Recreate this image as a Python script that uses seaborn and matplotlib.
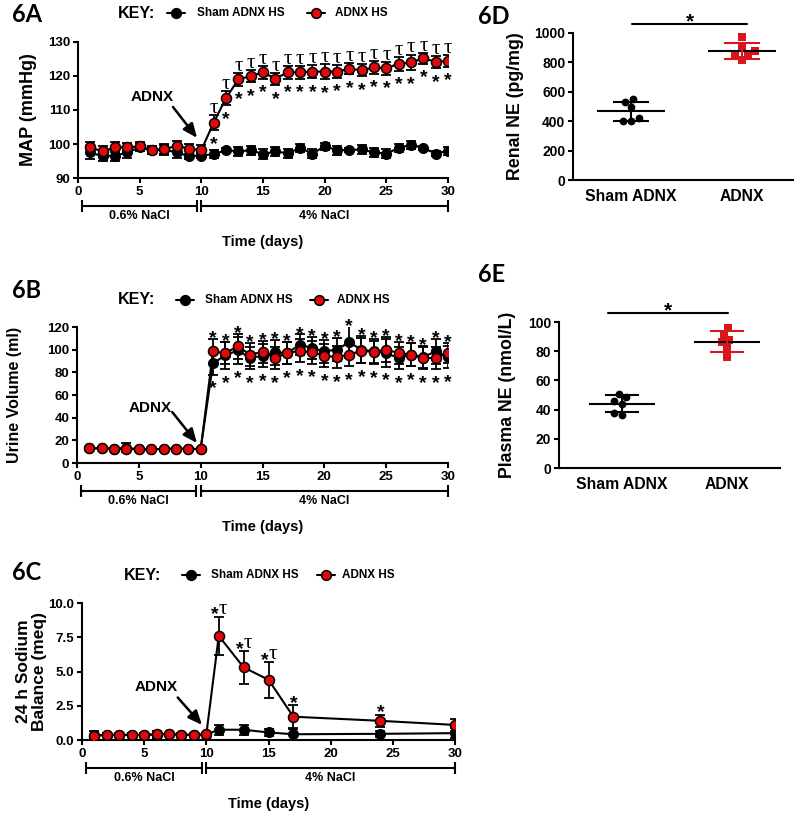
import numpy as np
import matplotlib.pyplot as plt
import matplotlib.transforms as mtransforms
from matplotlib.lines import Line2D
import seaborn as sns

sns.set_theme(style="ticks")
plt.rcParams['font.family'] = ['Liberation Sans', 'DejaVu Sans']
plt.rcParams['font.weight'] = 'bold'
plt.rcParams['axes.labelweight'] = 'bold'
plt.rcParams.update({'text.color': 'black', 'axes.labelcolor': 'black',
                     'xtick.color': 'black', 'ytick.color': 'black',
                     'axes.edgecolor': 'black'})

RED = '#e00808'
RED_SQ = '#d9161c'

# ---- data ----
days = list(range(1, 31))

map_sham = [97.5, 96.4, 96.6, 97.5, 99.0, 98.2, 98.4, 97.5, 96.4, 96.6,
            97.0, 98.2, 97.8, 98.2, 97.0, 97.8, 97.3, 98.8, 97.2, 99.3,
            98.2, 98.2, 98.4, 97.5, 97.2, 98.8, 99.8, 98.8, 97.2, 98.0]
map_sham_sem = [1.8, 1.5, 1.5, 1.5, 1.2, 1.0, 1.2, 1.5, 0.8, 0.8,
                1.2, 0.6, 1.3, 1.3, 1.5, 1.3, 1.3, 1.3, 1.3, 1.0,
                1.3, 0.6, 1.2, 1.2, 1.2, 1.3, 1.2, 0.6, 0.6, 1.2]
map_adnx = [99.0, 97.8, 99.0, 99.0, 99.3, 98.2, 98.4, 99.5, 98.6, 98.2,
            106.3, 113.5, 119.0, 120.0, 121.1, 119.2, 121.1, 121.1, 121.3, 121.3,
            121.3, 122.1, 121.7, 122.5, 122.3, 123.6, 124.0, 125.2, 124.2, 124.4]
map_adnx_sem = [1.5, 1.5, 1.5, 1.2, 1.2, 1.2, 1.5, 1.5, 1.5, 1.5,
                2.2, 2.0, 1.8, 1.8, 1.9, 1.8, 1.9, 1.9, 2.0, 2.2,
                1.8, 1.6, 1.7, 1.8, 1.9, 2.0, 2.3, 1.6, 1.8, 1.7]
map_sig_days = days[10:]

uv_sham = [13.0, 13.0, 12.5, 13.5, 12.0, 12.0, 12.5, 12.5, 12.5, 12.5,
           88.0, 95.0, 99.4, 92.6, 94.7, 97.6, 97.0, 104.4, 101.5, 98.5,
           100.0, 106.5, 100.0, 98.5, 97.0, 92.6, 95.6, 93.5, 98.5, 93.5]
uv_sham_sem = [1.0, 1.0, 1.0, 4.0, 1.0, 1.0, 1.0, 1.0, 1.0, 1.0,
               10, 12, 12, 10, 10, 11, 10, 9, 10, 10,
               10, 14, 12, 11, 12, 10, 10, 10, 11, 10]
uv_adnx = [13.0, 13.0, 12.5, 12.5, 12.0, 12.0, 12.5, 12.5, 12.5, 12.0,
           98.5, 97.0, 103.0, 95.6, 98.0, 92.6, 97.0, 99.0, 97.6, 94.7,
           93.5, 95.6, 99.0, 98.0, 100.0, 97.0, 95.6, 92.6, 92.6, 97.0]
uv_adnx_sem = [1.0, 1.0, 1.0, 1.0, 1.0, 1.0, 1.0, 1.0, 1.0, 1.0,
               11, 10, 11, 10, 10, 10, 10, 10, 10, 10,
               10, 10, 11, 10, 11, 10, 10, 10, 10, 9]
uv_sig_days = days[10:]

na_days = [1, 2, 3, 4, 5, 6, 7, 8, 9, 10, 11, 13, 15, 17, 24, 30]
na_sham = [0.35, 0.38, 0.38, 0.38, 0.38, 0.40, 0.42, 0.38, 0.38, 0.40,
           0.75, 0.75, 0.55, 0.42, 0.45, 0.50]
na_sham_sem = [0.30, 0.10, 0.10, 0.10, 0.10, 0.25, 0.10, 0.10, 0.10, 0.10,
               0.35, 0.35, 0.25, 0.40, 0.20, 0.35]
na_adnx = [0.30, 0.37, 0.37, 0.37, 0.37, 0.41, 0.44, 0.37, 0.39, 0.41,
           7.6, 5.3, 4.4, 1.7, 1.4, 1.1]
na_adnx_sem = [0.05, 0.05, 0.05, 0.05, 0.05, 0.05, 0.05, 0.05, 0.05, 0.05,
               1.4, 1.2, 1.3, 0.85, 0.45, 0.42]
na_sig_days = [11, 13, 15, 17, 24]
na_sig_tau = [True, True, True, False, False]

groups = ['Sham ADNX', 'ADNX']
renal_sham = [530, 550, 495, 420, 402, 402]
renal_adnx = [970, 898, 857, 875, 818, 841]
plasma_sham = [51.0, 46.0, 48.5, 44.0, 38.0, 36.0]
plasma_adnx = [96.0, 91.5, 87.5, 86.0, 82.0, 76.0]

bracket_ranges = [(0.35, 9.65), (10.0, 30.0)]
bracket_labels = ['0.6% NaCl', '4% NaCl']

TAU_FONT = ['Liberation Serif', 'DejaVu Serif']

# ---- figure ----
W, H = 800, 821
fig = plt.figure(figsize=(W / 100, H / 100), dpi=100)


def add_ax(left, top, right, bottom):
    return fig.add_axes([left / W, 1 - bottom / H, (right - left) / W, (bottom - top) / H])


def style_axes(ax, labelsize=9.5):
    sns.despine(ax=ax)
    for s in ['left', 'bottom']:
        ax.spines[s].set_linewidth(1.5)
        ax.spines[s].set_color('black')
    ax.tick_params(width=1.5, length=3.5, labelsize=labelsize, pad=2, colors='black')
    ax.grid(False)


def px_coords(ax, dx, dy):
    bb = ax.get_position()
    return dx / (bb.width * W), dy / (bb.height * H)


def time_panel(ax, x, sham, sham_sem, adnx, adnx_sem):
    ax.errorbar(x, sham, yerr=sham_sem, fmt='none', ecolor='black',
                elinewidth=1.3, capsize=3.6, capthick=1.3, zorder=2)
    sns.lineplot(x=x, y=sham, ax=ax, color='black', linewidth=1.5, marker='o',
                 markersize=7.2, markerfacecolor='black', markeredgecolor='black',
                 errorbar=None, zorder=3)
    ax.errorbar(x, adnx, yerr=adnx_sem, fmt='none', ecolor='black',
                elinewidth=1.3, capsize=3.6, capthick=1.3, zorder=4)
    sns.lineplot(x=x, y=adnx, ax=ax, color='black', linewidth=1.5, marker='o',
                 markersize=7.2, markerfacecolor=RED, markeredgecolor='black',
                 markeredgewidth=1.1, errorbar=None, zorder=5)
    ax.set_xlim(0, 30)
    ax.set_xticks([0, 5, 10, 15, 20, 25, 30])
    style_axes(ax)

    # NaCl brackets under the x axis
    base = mtransforms.blended_transform_factory(ax.transData, ax.transAxes)
    tr_br = mtransforms.offset_copy(base, fig=fig, y=-28, units='dots')
    tr_lb = mtransforms.offset_copy(base, fig=fig, y=-38, units='dots')
    for (x0, x1), lab in zip(bracket_ranges, bracket_labels):
        ax.add_line(Line2D([x0, x1], [0, 0], transform=tr_br, color='black', lw=1.5,
                           clip_on=False, marker='|', markersize=9, markeredgewidth=1.5))
        ax.text((x0 + x1) / 2, 0, lab, transform=tr_lb, ha='center', va='center',
                fontsize=9, fontweight='bold')

    ax.set_xlabel('Time (days)', fontsize=10.5)
    ax.xaxis.set_label_coords(0.5, -px_coords(ax, 0, 57)[1])


def adnx_arrow(ax, text_xy, tail, tip):
    ax.text(text_xy[0], text_xy[1], 'ADNX', ha='center', va='center', fontsize=11,
            fontweight='bold')
    ax.annotate('', xy=tip, xytext=tail,
                arrowprops=dict(arrowstyle='-|>,head_length=0.7,head_width=0.3',
                                color='black', lw=1.8, shrinkA=0, shrinkB=0))


def sig(ax, x, y, s, dy, size=14, family=None, ha='center'):
    kw = dict(textcoords='offset points', ha=ha, va='baseline', fontsize=size,
              annotation_clip=False)
    if family is not None:
        kw['family'] = family
        kw['fontweight'] = 'normal'
    else:
        kw['fontweight'] = 'bold'
    ax.annotate(s, xy=(x, y), xytext=(0, dy), **kw)


def key_legend(y, key_x, sham_x, sham_tx, adnx_x, adnx_tx):
    fy = 1 - y / H
    fig.text(key_x / W, fy, 'KEY:', fontsize=11.5, fontweight='bold', va='center')
    for cx, face in ((sham_x, 'black'), (adnx_x, RED)):
        fig.add_artist(Line2D([(cx - 9) / W, cx / W, (cx + 9) / W], [fy, fy, fy],
                              transform=fig.transFigure, color='black', lw=1.5,
                              marker='o', markevery=[1], markersize=7,
                              markerfacecolor=face, markeredgecolor='black',
                              markeredgewidth=1.1))
    fig.text(sham_tx / W, fy, 'Sham ADNX HS', fontsize=8.5, fontweight='bold', va='center')
    fig.text(adnx_tx / W, fy, 'ADNX HS', fontsize=8.5, fontweight='bold', va='center')


def panel_label(x, y, s):
    fig.text(x / W, 1 - y / H, s, fontsize=17, fontweight='bold', family='Lato',
             va='center', ha='left')


# ---- 6A ----
ax_a = add_ax(78, 42, 448, 178)
time_panel(ax_a, days, map_sham, map_sham_sem, map_adnx, map_adnx_sem)
ax_a.set_ylim(90, 130)
ax_a.set_yticks([90, 100, 110, 120, 130])
ax_a.set_ylabel('MAP (mmHg)', fontsize=13)
ax_a.yaxis.set_label_coords(-px_coords(ax_a, 41, 0)[0], 0.5)
for d in map_sig_days:
    i = days.index(d)
    sig(ax_a, d, map_adnx[i] + map_adnx_sem[i], 'τ', 1.5, size=15, family=TAU_FONT)
    sig(ax_a, d, map_adnx[i] - map_adnx_sem[i], '*', -13.5)
adnx_arrow(ax_a, (6.0, 113.8), (7.7, 110.9), (9.65, 101.8))

# ---- 6B ----
ax_b = add_ax(77, 327, 448, 463)
time_panel(ax_b, days, uv_sham, uv_sham_sem, uv_adnx, uv_adnx_sem)
ax_b.set_ylim(0, 120)
ax_b.set_yticks([0, 20, 40, 60, 80, 100, 120])
ax_b.set_ylabel('Urine Volume (ml)', fontsize=11.5)
ax_b.yaxis.set_label_coords(-px_coords(ax_b, 55, 0)[0], 0.5)
for d in uv_sig_days:
    i = days.index(d)
    top = max(uv_sham[i] + uv_sham_sem[i], uv_adnx[i] + uv_adnx_sem[i])
    bot = min(uv_sham[i] - uv_sham_sem[i], uv_adnx[i] - uv_adnx_sem[i])
    sig(ax_b, d, top, '*', -3)
    sig(ax_b, d, bot, '*', -13.5)
adnx_arrow(ax_b, (5.9, 48.5), (7.7, 45.0), (9.7, 17.6))

# ---- 6C ----
ax_c = add_ax(82, 603, 455, 740)
time_panel(ax_c, na_days, na_sham, na_sham_sem, na_adnx, na_adnx_sem)
ax_c.set_ylim(0, 10)
ax_c.set_yticks([0, 2.5, 5, 7.5, 10])
ax_c.set_yticklabels(['0.0', '2.5', '5.0', '7.5', '10.0'])
ax_c.set_ylabel('24 h Sodium\nBalance (meq)', fontsize=12.5, linespacing=1.05)
ax_c.yaxis.set_label_coords(-px_coords(ax_c, 35, 0)[0], 0.5)
for d, has_tau in zip(na_sig_days, na_sig_tau):
    i = na_days.index(d)
    y = na_adnx[i] + na_adnx_sem[i]
    if has_tau:
        sig(ax_c, d, y, '*', -2, ha='right')
        sig(ax_c, d, y, 'τ', 2, size=15, family=TAU_FONT, ha='left')
    else:
        sig(ax_c, d, y, '*', -2)
adnx_arrow(ax_c, (6.0, 3.87), (7.7, 3.1), (9.65, 1.1))


# ---- 6D / 6E ----
def scatter_panel(ax, sham, adnx, ylim, yticks, ylabel, xlim, bar_x, bar_y):
    sns.swarmplot(x=[groups[0]] * len(sham), y=sham, order=groups, ax=ax,
                  color='black', marker='o', size=5.6, zorder=3)
    sns.swarmplot(x=[groups[1]] * len(adnx), y=adnx, order=groups, ax=ax,
                  color=RED_SQ, marker='s', size=5.6, zorder=3)
    for i, (vals, col) in enumerate(((sham, 'black'), (adnx, RED_SQ))):
        m = np.mean(vals)
        sd = np.std(vals, ddof=1)
        ax.hlines(m, i - 0.31, i + 0.31, color='black', lw=1.5, zorder=4)
        ax.hlines([m - sd, m + sd], i - 0.165, i + 0.165, color=col, lw=1.5, zorder=4)
        ax.vlines(i, m - sd, m + sd, color=col, lw=1.5, zorder=4)
    ax.set_xlim(*xlim)
    ax.set_ylim(*ylim)
    ax.set_yticks(yticks)
    style_axes(ax, labelsize=10)
    ax.tick_params(axis='x', length=0, labelsize=11.3, pad=6.5)
    ax.set_xlabel('')
    ax.set_ylabel(ylabel, fontsize=12.8)
    ax.plot(bar_x, [bar_y, bar_y], color='black', lw=1.5, clip_on=False)
    sig(ax, np.mean(bar_x), bar_y, '*', -2.5, size=15)


ax_d = add_ax(573, 33, 793, 180)
scatter_panel(ax_d, renal_sham, renal_adnx, (0, 1000), [0, 200, 400, 600, 800, 1000],
              'Renal NE (pg/mg)', (-0.524, 1.46), [0.01, 1.045], 1061)
ax_d.yaxis.set_label_coords(-px_coords(ax_d, 49, 0)[0], 0.5)

ax_e = add_ax(559, 322, 780, 468)
scatter_panel(ax_e, plasma_sham, plasma_adnx, (0, 100), [0, 20, 40, 60, 80, 100],
              'Plasma NE (nmol/L)', (-0.6, 1.505), [-0.133, 1.01], 106.4)
ax_e.yaxis.set_label_coords(-px_coords(ax_e, 43, 0)[0], 0.5)

# ---- keys and panel labels ----
key_legend(13, 118, 176, 197, 316, 335)
key_legend(300, 118, 185, 205, 319, 337)
key_legend(575, 124, 191, 211, 326, 342)

panel_label(12, 15, '6A')
panel_label(12, 291, '6B')
panel_label(12, 572, '6C')
panel_label(478, 17, '6D')
panel_label(478, 274, '6E')

fig.savefig('out.png', dpi=100, facecolor='white')
